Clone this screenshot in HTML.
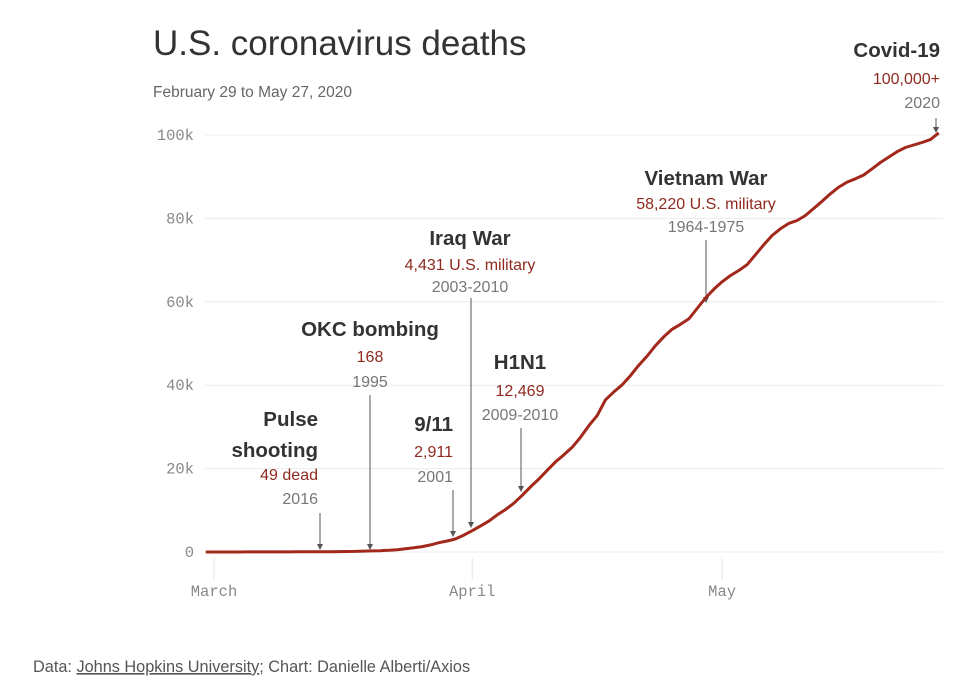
<!DOCTYPE html>
<html><head><meta charset="utf-8"><style>
body{margin:0;background:#fff;width:960px;height:695px;overflow:hidden;font-family:"Liberation Sans",sans-serif}
</style></head><body>
<svg width="960" height="695" style="display:block">
<text x="153" y="55" font-size="35" fill="#333">U.S. coronavirus deaths</text>
<text x="153" y="97" font-size="15.5" fill="#666">February 29 to May 27, 2020</text>
<g id="grid"></g>
<g id="ann"></g>
<path id="line" fill="none" stroke="#a3281c" stroke-width="3" stroke-linejoin="round"/>
<text x="33" y="672" font-size="16.3" fill="#555">Data: <tspan text-decoration="underline">Johns Hopkins University</tspan>; Chart: Danielle Alberti/Axios</text>
</svg>
<script>
const yTicks=[0,20000,40000,60000,80000,100000];
const yTickLabels=["0","20k","40k","60k","80k","100k"];
const xTickDays=[0,31,61];
const xTickLabels=["March","April","May"];
const deaths=[1,1,6,9,11,12,15,19,22,26,30,38,41,48,57,68,86,109,150,206,255,301,413,555,780,1027,1295,1695,2220,2630,3150,4050,
5100,6250,7400,8900,10200,11700,13600,15600,17500,19600,21600,23300,25100,27500,30300,32700,36500,38400,40100,42300,44800,47000,49500,51600,53400,54600,55900,58400,60900,63000,
64800,66300,67500,68900,71300,73700,75900,77500,78800,79500,80700,82400,84100,85900,87500,88700,89500,90400,91900,93400,94700,96000,97000,97600,98200,98900,100500];
const NS="http://www.w3.org/2000/svg";
function x(d){return 214+8.33*d;}
function y(v){return 552-v*(417/100000);}
function mk(tag,attrs,parent,txt){const e=document.createElementNS(NS,tag);for(const k in attrs)e.setAttribute(k,attrs[k]);if(txt!=null)e.textContent=txt;parent.appendChild(e);return e;}
const g=document.getElementById('grid');
yTicks.forEach((t,i)=>{
 const l=mk('line',{x1:205,x2:943,y1:y(t),y2:y(t),stroke:'#ececec','stroke-width':1},g);
 
 
 const tx=mk('text',{x:194,y:y(t)+5,'text-anchor':'end','font-size':15.5,fill:'#888','font-family':'Liberation Mono, monospace'},g,yTickLabels[i]);
 
 
});
xTickDays.forEach((d,i)=>{
 const l=mk('line',{x1:x(d),x2:x(d),y1:558,y2:580,stroke:'#e4e4e4','stroke-width':1},g);
 
 
 const tx=mk('text',{x:x(d),y:596,'text-anchor':'middle','font-size':15.5,fill:'#888','font-family':'Liberation Mono, monospace'},g,xTickLabels[i]);
 
 
});
let dstr='';
deaths.forEach((v,i)=>{dstr+=(i?'L':'M')+x(i-1).toFixed(1)+','+y(v).toFixed(1);});
document.getElementById('line').setAttribute('d',dstr);
const a=document.getElementById('ann');
const B=20.5,S=16;
const anns=[
 {lines:[["Covid-19",B,"#333",true,57],["100,000+",S,"#8e2a1e",false,84],["2020",S,"#777",false,108]],tx:940,anchor:"end",ax:936,ay1:118,ay2:133,name:"covid-annotation"},
 {lines:[["Vietnam War",B,"#333",true,185],["58,220 U.S. military",S,"#8e2a1e",false,209],["1964-1975",S,"#777",false,232]],tx:706,anchor:"middle",ax:706,ay1:240,ay2:303,name:"vietnam-annotation"},
 {lines:[["Iraq War",B,"#333",true,245],["4,431 U.S. military",S,"#8e2a1e",false,270],["2003-2010",S,"#777",false,292]],tx:470,anchor:"middle",ax:471,ay1:298,ay2:528,name:"iraq-annotation"},
 {lines:[["OKC bombing",B,"#333",true,336],["168",S,"#8e2a1e",false,362],["1995",S,"#777",false,387]],tx:370,anchor:"middle",ax:370,ay1:395,ay2:550,name:"okc-annotation"},
 {lines:[["H1N1",B,"#333",true,369],["12,469",S,"#8e2a1e",false,396],["2009-2010",S,"#777",false,420]],tx:520,anchor:"middle",ax:521,ay1:428,ay2:492,name:"h1n1-annotation"},
 {lines:[["9/11",B,"#333",true,431],["2,911",S,"#8e2a1e",false,457],["2001",S,"#777",false,482]],tx:453,anchor:"end",ax:453,ay1:490,ay2:537,name:"911-annotation"},
 {lines:[["Pulse",B,"#333",true,426],["shooting",B,"#333",true,457],["49 dead",S,"#8e2a1e",false,480],["2016",S,"#777",false,504]],tx:318,anchor:"end",ax:320,ay1:513,ay2:550,name:"pulse-annotation"}
];
anns.forEach(o=>{
 const grp=mk('g',{},a);
 
 
 o.lines.forEach(L=>{
  const t=mk('text',{x:o.tx,y:L[4],'text-anchor':o.anchor,'font-size':L[1],fill:L[2],'font-weight':L[3]?'bold':'normal'},grp,L[0]);
  
  
 });
 const ln=mk('line',{x1:o.ax,x2:o.ax,y1:o.ay1,y2:o.ay2-5,stroke:'#555','stroke-width':1},grp);
 
 
 const p=mk('path',{d:`M${o.ax-3},${o.ay2-6}L${o.ax+3},${o.ay2-6}L${o.ax},${o.ay2}Z`,fill:'#555'},grp);
 
 
});
</script>
</body></html>
